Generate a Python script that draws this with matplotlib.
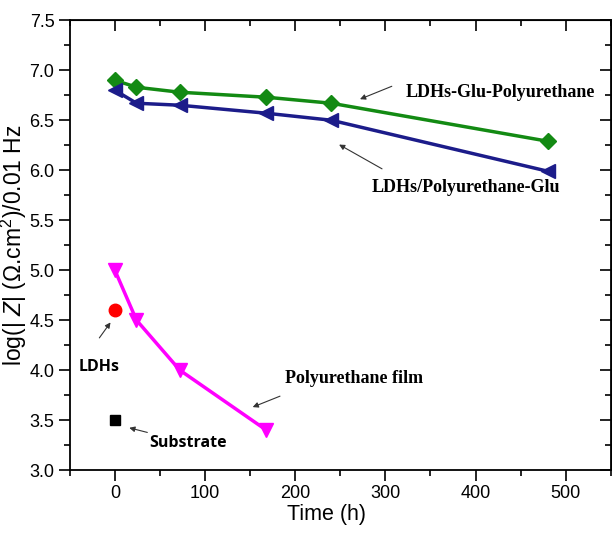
import matplotlib
matplotlib.use('Agg')
import matplotlib.pyplot as plt
from matplotlib.ticker import MultipleLocator, FormatStrFormatter

plt.rcParams['font.family'] = ['Liberation Sans', 'DejaVu Sans']
plt.rcParams['mathtext.fontset'] = 'custom'
plt.rcParams['mathtext.rm'] = 'Liberation Sans'
plt.rcParams['mathtext.it'] = 'Liberation Sans:italic'

# data
time = [0, 24, 72, 168, 240, 480]
glu_pu = [6.90, 6.83, 6.78, 6.73, 6.67, 6.29]      # LDHs-Glu-Polyurethane
ldh_pu_glu = [6.80, 6.67, 6.65, 6.57, 6.50, 5.99]  # LDHs/Polyurethane-Glu
time_film = [0, 24, 72, 168]
pu_film = [5.00, 4.50, 4.00, 3.40]
ldhs_t, ldhs_v = [0], [4.60]
sub_t, sub_v = [0], [3.50]

fig = plt.figure(figsize=(6.12, 5.33), dpi=100)
ax = fig.add_axes([0.114, 0.118, 0.884, 0.844])

ax.plot(time, glu_pu, color='#138a13', lw=2.5, marker='D', ms=8)
ax.plot(time, ldh_pu_glu, color='#1c1c8a', lw=2.5, marker='<', ms=10)
ax.plot(time_film, pu_film, color='#ff00ff', lw=2.5, marker='v', ms=10)
ax.plot(ldhs_t, ldhs_v, 'o', color='#ff0000', ms=9)
ax.plot(sub_t, sub_v, 's', color='black', ms=7)

ax.set_xlim(-50, 550)
ax.set_ylim(3.0, 7.5)
ax.xaxis.set_major_locator(MultipleLocator(100))
ax.xaxis.set_minor_locator(MultipleLocator(50))
ax.yaxis.set_major_locator(MultipleLocator(0.5))
ax.yaxis.set_minor_locator(MultipleLocator(0.25))
ax.yaxis.set_major_formatter(FormatStrFormatter('%.1f'))
ax.tick_params(which='major', direction='out', length=8, width=1.2, labelsize=13, pad=3)
ax.tick_params(which='minor', direction='out', length=4, width=1.2)
for s in ax.spines.values():
    s.set_linewidth(1.3)

# mirrored ticks pointing inward on top and right
top = ax.secondary_xaxis('top')
top.xaxis.set_major_locator(MultipleLocator(100))
top.xaxis.set_minor_locator(MultipleLocator(50))
top.tick_params(which='major', direction='in', length=8, width=1.2, labeltop=False)
top.tick_params(which='minor', direction='in', length=4, width=1.2)
right = ax.secondary_yaxis('right')
right.yaxis.set_major_locator(MultipleLocator(0.5))
right.yaxis.set_minor_locator(MultipleLocator(0.25))
right.tick_params(which='major', direction='in', length=8, width=1.2, labelright=False)
right.tick_params(which='minor', direction='in', length=4, width=1.2)

ax.set_xlabel('Time (h)', fontsize=15.5, labelpad=1, x=0.474)
ax.set_ylabel(r'log(| $Z$| ($\Omega$.cm$^2$)/0.01 Hz', fontsize=16.5, labelpad=0)

serif = dict(family=['Liberation Serif', 'DejaVu Serif'], fontweight='bold', fontsize=13)
sans = dict(family=['Open Sans', 'DejaVu Sans'], fontweight='bold', fontsize=11.5)
arrow = dict(arrowstyle='-|>', color='#333333', lw=0.8, mutation_scale=8)

ax.annotate('', xy=(269, 6.70), xytext=(310, 6.85), arrowprops=arrow)
ax.text(428, 6.78, 'LDHs-Glu-Polyurethane', ha='center', va='center', **serif)
ax.annotate('', xy=(246, 6.27), xytext=(299, 6.00), arrowprops=arrow)
ax.text(389, 5.83, 'LDHs/Polyurethane-Glu', ha='center', va='center', **serif)
ax.annotate('', xy=(150, 3.62), xytext=(186, 3.75), arrowprops=arrow)
ax.text(189, 3.92, 'Polyurethane film', ha='left', va='center', **serif)
ax.annotate('', xy=(-3, 4.50), xytext=(-19, 4.30), arrowprops=arrow)
ax.text(-17, 4.03, 'LDHs', ha='center', va='center', **sans)
ax.annotate('', xy=(13, 3.43), xytext=(39, 3.37), arrowprops=arrow)
ax.text(81, 3.27, 'Substrate', ha='center', va='center', **sans)

fig.savefig('out.png', dpi=100)
